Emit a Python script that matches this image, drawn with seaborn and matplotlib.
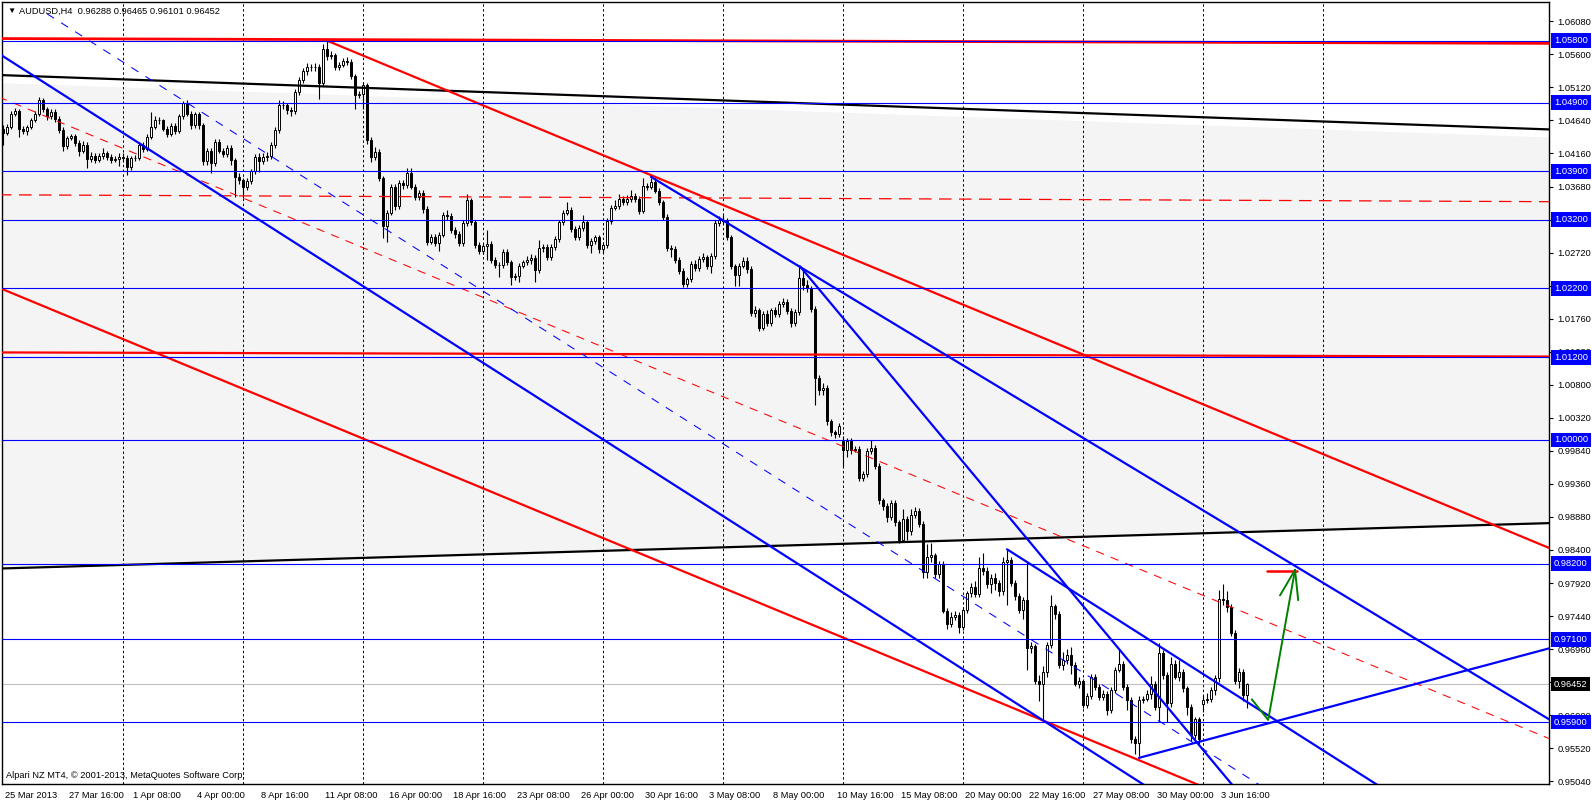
import numpy as np
import pandas as pd
import seaborn as sns
import matplotlib.pyplot as plt
from matplotlib import transforms

# AUDUSD H4, 6 bars a day, 25 Mar 2013 .. 4 Jun 2013 (one row = one day)
opens = [
    1.0452, 1.0446, 1.0455, 1.0474, 1.0478, 1.0451,
    1.0448, 1.0455, 1.0465, 1.0474, 1.0493, 1.0480,
    1.0470, 1.0477, 1.0466, 1.0450, 1.0427, 1.0438,
    1.0441, 1.0431, 1.0419, 1.0429, 1.0408, 1.0413,
    1.0407, 1.0412, 1.0417, 1.0411, 1.0407, 1.0408,
    1.0411, 1.0410, 1.0396, 1.0409, 1.0410, 1.0429,
    1.0423, 1.0440, 1.0455, 1.0465, 1.0464, 1.0452,
    1.0445, 1.0456, 1.0449, 1.0470, 1.0489, 1.0474,
    1.0457, 1.0473, 1.0457, 1.0405, 1.0420, 1.0402,
    1.0433, 1.0420, 1.0415, 1.0424, 1.0406, 1.0382,
    1.0377, 1.0367, 1.0376, 1.0390, 1.0411, 1.0405,
    1.0411, 1.0412, 1.0428, 1.0450, 1.0487, 1.0486,
    1.0479, 1.0478, 1.0506, 1.0523, 1.0536, 1.0542,
    1.0541, 1.0542, 1.0518, 1.0568, 1.0558, 1.0559,
    1.0542, 1.0545, 1.0550, 1.0549, 1.0528, 1.0501,
    1.0503, 1.0515, 1.0436, 1.0411, 1.0418, 1.0380,
    1.0310, 1.0330, 1.0368, 1.0339, 1.0373, 1.0370,
    1.0388, 1.0368, 1.0353, 1.0359, 1.0336, 1.0288,
    1.0295, 1.0286, 1.0298, 1.0327, 1.0325, 1.0305,
    1.0299, 1.0286, 1.0315, 1.0348, 1.0316, 1.0283,
    1.0275, 1.0281, 1.0285, 1.0261, 1.0254, 1.0254,
    1.0273, 1.0258, 1.0236, 1.0238, 1.0253, 1.0258,
    1.0262, 1.0264, 1.0247, 1.0278, 1.0280, 1.0266,
    1.0280, 1.0292, 1.0316, 1.0330, 1.0334, 1.0306,
    1.0294, 1.0308, 1.0316, 1.0283, 1.0289, 1.0294,
    1.0277, 1.0283, 1.0318, 1.0337, 1.0340, 1.0350,
    1.0345, 1.0350, 1.0354, 1.0350, 1.0333, 1.0369,
    1.0368, 1.0375, 1.0362, 1.0345, 1.0324, 1.0278,
    1.0277, 1.0262, 1.0246, 1.0226, 1.0233, 1.0256,
    1.0250, 1.0263, 1.0265, 1.0252, 1.0267, 1.0315,
    1.0320, 1.0318, 1.0294, 1.0252, 1.0239, 1.0253,
    1.0260, 1.0248, 1.0185, 1.0188, 1.0163, 1.0183,
    1.0170, 1.0188, 1.0183, 1.0197, 1.0200, 1.0187,
    1.0170, 1.0186, 1.0235, 1.0225, 1.0220, 1.0190,
    1.0090, 1.0073, 1.0075, 1.0027, 1.0011, 1.0008,
    0.9998, 0.9985, 0.9998, 0.9985, 0.9987, 0.9945,
    0.9950, 0.9984, 0.9988, 0.9962, 0.9912, 0.9904,
    0.9888, 0.9908, 0.9880, 0.9855, 0.9885, 0.9867,
    0.9891, 0.9897, 0.9878, 0.9808, 0.9830, 0.9832,
    0.9805, 0.9820, 0.9752, 0.9733, 0.9742, 0.9746,
    0.9728, 0.9753, 0.9777, 0.9786, 0.9776, 0.9814,
    0.9810, 0.9790, 0.9800, 0.9792, 0.9780, 0.9823,
    0.9825, 0.9792, 0.9773, 0.9753, 0.9768, 0.9697,
    0.9700, 0.9649, 0.9646, 0.9663, 0.9702, 0.9758,
    0.9747, 0.9673, 0.9680, 0.9688, 0.9673, 0.9646,
    0.9649, 0.9615, 0.9628, 0.9656, 0.9641, 0.9627,
    0.9631, 0.9607, 0.9637, 0.9666, 0.9675, 0.9641,
    0.9622, 0.9566, 0.9560, 0.9622, 0.9624, 0.9631,
    0.9645, 0.9612, 0.9690, 0.9658, 0.9617, 0.9674,
    0.9656, 0.9663, 0.9639, 0.9612, 0.9571, 0.9594,
    0.9616, 0.9622, 0.9624, 0.9636, 0.9654, 0.9769,
    0.9768, 0.9757, 0.9720, 0.9650, 0.9663, 0.96288,
]
highs = [
    1.0458, 1.0459, 1.0478, 1.0482, 1.0481, 1.0456,
    1.0458, 1.0468, 1.0478, 1.0498, 1.0496, 1.0484,
    1.0481, 1.0480, 1.0470, 1.0454, 1.0442, 1.0445,
    1.0445, 1.0436, 1.0434, 1.0432, 1.0418, 1.0416,
    1.0416, 1.0424, 1.0420, 1.0415, 1.0413, 1.0416,
    1.0417, 1.0414, 1.0412, 1.0414, 1.0433, 1.0433,
    1.0444, 1.0477, 1.0470, 1.0469, 1.0466, 1.0456,
    1.0460, 1.0461, 1.0474, 1.0492, 1.0494, 1.0478,
    1.0477, 1.0477, 1.0460, 1.0424, 1.0424, 1.0437,
    1.0437, 1.0424, 1.0429, 1.0428, 1.0410, 1.0387,
    1.0381, 1.0380, 1.0394, 1.0415, 1.0416, 1.0416,
    1.0418, 1.0432, 1.0454, 1.0494, 1.0492, 1.0490,
    1.0484, 1.0510, 1.0527, 1.0540, 1.0547, 1.0546,
    1.0547, 1.0546, 1.0575, 1.0580, 1.0565, 1.0562,
    1.0549, 1.0555, 1.0556, 1.0553, 1.0531, 1.0507,
    1.0520, 1.0519, 1.0440, 1.0425, 1.0422, 1.0384,
    1.0334, 1.0372, 1.0372, 1.0377, 1.0377, 1.0395,
    1.0395, 1.0372, 1.0363, 1.0363, 1.0340, 1.0299,
    1.0299, 1.0302, 1.0331, 1.0334, 1.0329, 1.0309,
    1.0303, 1.0319, 1.0357, 1.0352, 1.0320, 1.0287,
    1.0285, 1.0305, 1.0289, 1.0265, 1.0258, 1.0277,
    1.0277, 1.0262, 1.0242, 1.0257, 1.0262, 1.0267,
    1.0270, 1.0268, 1.0290, 1.0285, 1.0284, 1.0284,
    1.0296, 1.0320, 1.0334, 1.0346, 1.0338, 1.0310,
    1.0312, 1.0326, 1.0320, 1.0293, 1.0298, 1.0298,
    1.0287, 1.0322, 1.0341, 1.0349, 1.0357, 1.0354,
    1.0355, 1.0363, 1.0358, 1.0354, 1.0380, 1.0373,
    1.0380, 1.0383, 1.0366, 1.0349, 1.0328, 1.0283,
    1.0281, 1.0266, 1.0250, 1.0237, 1.0260, 1.0262,
    1.0267, 1.0272, 1.0269, 1.0271, 1.0320, 1.0325,
    1.0326, 1.0322, 1.0298, 1.0256, 1.0257, 1.0266,
    1.0265, 1.0252, 1.0195, 1.0192, 1.0187, 1.0188,
    1.0192, 1.0193, 1.0201, 1.0206, 1.0204, 1.0191,
    1.0190, 1.0251, 1.0245, 1.0232, 1.0224, 1.0194,
    1.0094, 1.0082, 1.0079, 1.0031, 1.0015, 1.0025,
    1.0005, 1.0002, 1.0002, 0.9991, 0.9991, 0.9955,
    0.9988, 1.0000, 0.9992, 0.9966, 0.9916, 0.9908,
    0.9912, 0.9913, 0.9884, 0.9900, 0.9890, 0.9900,
    0.9902, 0.9901, 0.9882, 0.9848, 0.9850, 0.9836,
    0.9824, 0.9824, 0.9756, 0.9750, 0.9752, 0.9750,
    0.9757, 0.9781, 0.9792, 0.9795, 0.9830, 0.9836,
    0.9815, 0.9805, 0.9806, 0.9797, 0.9830, 0.9840,
    0.9830, 0.9796, 0.9777, 0.9772, 0.9823, 0.9706,
    0.9704, 0.9659, 0.9671, 0.9707, 0.9775, 0.9762,
    0.9751, 0.9692, 0.9696, 0.9699, 0.9677, 0.9656,
    0.9653, 0.9632, 0.9660, 0.9660, 0.9645, 0.9636,
    0.9635, 0.9641, 0.9670, 0.9695, 0.9679, 0.9645,
    0.9626, 0.9570, 0.9628, 0.9628, 0.9636, 0.9657,
    0.9650, 0.9705, 0.9694, 0.9662, 0.9685, 0.9680,
    0.9680, 0.9667, 0.9643, 0.9616, 0.9598, 0.9598,
    0.9630, 0.9632, 0.9641, 0.9658, 0.9782, 0.9791,
    0.9781, 0.9761, 0.9724, 0.9668, 0.9667, 0.96465,
]
lows = [
    1.0429, 1.0443, 1.0452, 1.0470, 1.0440, 1.0444,
    1.0443, 1.0451, 1.0462, 1.0471, 1.0476, 1.0465,
    1.0466, 1.0462, 1.0446, 1.0420, 1.0423, 1.0435,
    1.0427, 1.0412, 1.0416, 1.0395, 1.0404, 1.0402,
    1.0403, 1.0408, 1.0406, 1.0402, 1.0403, 1.0398,
    1.0404, 1.0385, 1.0392, 1.0405, 1.0407, 1.0418,
    1.0419, 1.0437, 1.0452, 1.0459, 1.0448, 1.0440,
    1.0441, 1.0444, 1.0446, 1.0466, 1.0470, 1.0452,
    1.0453, 1.0452, 1.0400, 1.0400, 1.0387, 1.0398,
    1.0416, 1.0411, 1.0411, 1.0400, 1.0353, 1.0371,
    1.0351, 1.0363, 1.0372, 1.0386, 1.0389, 1.0401,
    1.0405, 1.0408, 1.0424, 1.0446, 1.0480, 1.0474,
    1.0471, 1.0474, 1.0501, 1.0519, 1.0530, 1.0536,
    1.0536, 1.0495, 1.0514, 1.0552, 1.0553, 1.0537,
    1.0537, 1.0541, 1.0544, 1.0524, 1.0480, 1.0496,
    1.0480, 1.0430, 1.0403, 1.0407, 1.0376, 1.0293,
    1.0288, 1.0326, 1.0334, 1.0335, 1.0365, 1.0366,
    1.0364, 1.0349, 1.0349, 1.0330, 1.0283, 1.0284,
    1.0281, 1.0275, 1.0294, 1.0320, 1.0300, 1.0293,
    1.0281, 1.0281, 1.0311, 1.0312, 1.0279, 1.0270,
    1.0270, 1.0262, 1.0257, 1.0249, 1.0236, 1.0250,
    1.0254, 1.0225, 1.0232, 1.0230, 1.0250, 1.0254,
    1.0256, 1.0230, 1.0243, 1.0273, 1.0262, 1.0262,
    1.0276, 1.0288, 1.0312, 1.0326, 1.0302, 1.0290,
    1.0290, 1.0304, 1.0278, 1.0272, 1.0284, 1.0271,
    1.0271, 1.0279, 1.0314, 1.0334, 1.0336, 1.0341,
    1.0341, 1.0346, 1.0345, 1.0328, 1.0329, 1.0363,
    1.0364, 1.0358, 1.0341, 1.0320, 1.0274, 1.0265,
    1.0257, 1.0241, 1.0222, 1.0222, 1.0229, 1.0246,
    1.0245, 1.0259, 1.0248, 1.0242, 1.0263, 1.0311,
    1.0313, 1.0290, 1.0248, 1.0224, 1.0224, 1.0249,
    1.0243, 1.0180, 1.0178, 1.0158, 1.0159, 1.0165,
    1.0165, 1.0178, 1.0179, 1.0193, 1.0183, 1.0164,
    1.0165, 1.0182, 1.0218, 1.0215, 1.0186, 1.0050,
    1.0065, 1.0065, 1.0022, 1.0005, 1.0002, 1.0004,
    0.9960, 0.9975, 0.9980, 0.9982, 0.9940, 0.9940,
    0.9946, 0.9979, 0.9958, 0.9907, 0.9898, 0.9880,
    0.9883, 0.9875, 0.9850, 0.9851, 0.9855, 0.9862,
    0.9886, 0.9873, 0.9800, 0.9800, 0.9822, 0.9800,
    0.9800, 0.9748, 0.9725, 0.9728, 0.9738, 0.9720,
    0.9724, 0.9748, 0.9772, 0.9771, 0.9772, 0.9804,
    0.9785, 0.9778, 0.9782, 0.9773, 0.9775, 0.9760,
    0.9788, 0.9768, 0.9748, 0.9740, 0.9665, 0.9690,
    0.9645, 0.9620, 0.9592, 0.9655, 0.9698, 0.9740,
    0.9668, 0.9665, 0.9675, 0.9660, 0.9642, 0.9640,
    0.9610, 0.9610, 0.9624, 0.9637, 0.9622, 0.9622,
    0.9600, 0.9603, 0.9632, 0.9662, 0.9636, 0.9608,
    0.9560, 0.9544, 0.9540, 0.9618, 0.9620, 0.9624,
    0.9607, 0.9590, 0.9652, 0.9590, 0.9612, 0.9652,
    0.9650, 0.9634, 0.9600, 0.9562, 0.9566, 0.9555,
    0.9605, 0.9617, 0.9619, 0.9630, 0.9648, 0.9760,
    0.9750, 0.9715, 0.9645, 0.9640, 0.9620, 0.96101,
]
closes = [
    1.0446, 1.0455, 1.0474, 1.0478, 1.0451, 1.0448,
    1.0455, 1.0465, 1.0474, 1.0493, 1.0480, 1.0470,
    1.0477, 1.0466, 1.0450, 1.0427, 1.0438, 1.0441,
    1.0431, 1.0419, 1.0429, 1.0408, 1.0413, 1.0407,
    1.0412, 1.0417, 1.0411, 1.0407, 1.0408, 1.0411,
    1.0410, 1.0396, 1.0409, 1.0410, 1.0429, 1.0423,
    1.0440, 1.0455, 1.0465, 1.0464, 1.0452, 1.0445,
    1.0456, 1.0449, 1.0470, 1.0489, 1.0474, 1.0457,
    1.0473, 1.0457, 1.0405, 1.0420, 1.0402, 1.0433,
    1.0420, 1.0415, 1.0424, 1.0406, 1.0382, 1.0377,
    1.0367, 1.0376, 1.0390, 1.0411, 1.0405, 1.0411,
    1.0412, 1.0428, 1.0450, 1.0487, 1.0486, 1.0479,
    1.0478, 1.0506, 1.0523, 1.0536, 1.0542, 1.0541,
    1.0542, 1.0518, 1.0568, 1.0558, 1.0559, 1.0542,
    1.0545, 1.0550, 1.0549, 1.0528, 1.0501, 1.0503,
    1.0515, 1.0436, 1.0411, 1.0418, 1.0380, 1.0310,
    1.0330, 1.0368, 1.0339, 1.0373, 1.0370, 1.0388,
    1.0368, 1.0353, 1.0359, 1.0336, 1.0288, 1.0295,
    1.0286, 1.0298, 1.0327, 1.0325, 1.0305, 1.0299,
    1.0286, 1.0315, 1.0348, 1.0316, 1.0283, 1.0275,
    1.0281, 1.0285, 1.0261, 1.0254, 1.0254, 1.0273,
    1.0258, 1.0236, 1.0238, 1.0253, 1.0258, 1.0262,
    1.0264, 1.0247, 1.0278, 1.0280, 1.0266, 1.0280,
    1.0292, 1.0316, 1.0330, 1.0334, 1.0306, 1.0294,
    1.0308, 1.0316, 1.0283, 1.0289, 1.0294, 1.0277,
    1.0283, 1.0318, 1.0337, 1.0340, 1.0350, 1.0345,
    1.0350, 1.0354, 1.0350, 1.0333, 1.0369, 1.0368,
    1.0375, 1.0362, 1.0345, 1.0324, 1.0278, 1.0277,
    1.0262, 1.0246, 1.0226, 1.0233, 1.0256, 1.0250,
    1.0263, 1.0265, 1.0252, 1.0267, 1.0315, 1.0320,
    1.0318, 1.0294, 1.0252, 1.0239, 1.0253, 1.0260,
    1.0248, 1.0185, 1.0188, 1.0163, 1.0183, 1.0170,
    1.0188, 1.0183, 1.0197, 1.0200, 1.0187, 1.0170,
    1.0186, 1.0235, 1.0225, 1.0220, 1.0190, 1.0090,
    1.0073, 1.0075, 1.0027, 1.0011, 1.0008, 1.0020,
    0.9985, 0.9998, 0.9985, 0.9987, 0.9945, 0.9950,
    0.9984, 0.9988, 0.9962, 0.9912, 0.9904, 0.9888,
    0.9908, 0.9880, 0.9855, 0.9885, 0.9867, 0.9891,
    0.9897, 0.9878, 0.9808, 0.9830, 0.9832, 0.9805,
    0.9820, 0.9752, 0.9733, 0.9742, 0.9746, 0.9728,
    0.9753, 0.9777, 0.9786, 0.9776, 0.9814, 0.9810,
    0.9790, 0.9800, 0.9792, 0.9780, 0.9823, 0.9825,
    0.9792, 0.9773, 0.9753, 0.9768, 0.9697, 0.9700,
    0.9649, 0.9646, 0.9663, 0.9702, 0.9758, 0.9747,
    0.9673, 0.9680, 0.9688, 0.9673, 0.9646, 0.9649,
    0.9615, 0.9628, 0.9656, 0.9641, 0.9627, 0.9631,
    0.9607, 0.9637, 0.9666, 0.9675, 0.9641, 0.9622,
    0.9566, 0.9560, 0.9622, 0.9624, 0.9631, 0.9645,
    0.9612, 0.9690, 0.9658, 0.9617, 0.9674, 0.9656,
    0.9663, 0.9639, 0.9612, 0.9571, 0.9594, 0.9566,
    0.9622, 0.9624, 0.9636, 0.9654, 0.9769, 0.9768,
    0.9757, 0.9720, 0.9650, 0.9663, 0.9630, 0.96452,
]

# time scale labels (every 16 bars) and weekly grid (every 30 bars)
date_labels = ["25 Mar 2013", "27 Mar 16:00", "1 Apr 08:00", "4 Apr 00:00", "8 Apr 16:00",
               "11 Apr 08:00", "16 Apr 00:00", "18 Apr 16:00", "23 Apr 08:00", "26 Apr 00:00",
               "30 Apr 16:00", "3 May 08:00", "8 May 00:00", "10 May 16:00", "15 May 08:00",
               "20 May 00:00", "22 May 16:00", "27 May 08:00", "30 May 00:00", "3 Jun 16:00"]
grid_bars = [30, 60, 90, 120, 150, 180, 210, 240, 270, 300, 330]

# price scale (labels hidden by the level boxes are left blank)
price_ticks = [1.0608, 1.0560, 1.0512, 1.0464, 1.0416, 1.0368, 1.0320, 1.0272, 1.0224,
               1.0176, 1.0128, 1.0080, 1.0032, 0.9984, 0.9936, 0.9888, 0.9840, 0.9792,
               0.9744, 0.9696, 0.9648, 0.9600, 0.9552, 0.9504]
hidden_ticks = [1.0320, 1.0224, 0.9648]
level_prices = [1.058, 1.049, 1.039, 1.032, 1.022, 1.012, 1.000, 0.982, 0.971, 0.959]
last_price = 0.96452

# drawn objects: end points as (bar index, price)
band_bars = [-1, 386.5]
band_top = [1.0519, 1.0440]
band_bottom = [0.9813, 0.9879]
black_up_bars, black_up_prices = [-1, 386.5], [1.0530, 1.0451]
black_lo_bars, black_lo_prices = [-1, 386.5], [0.9813, 0.9879]
red_hi_bars, red_hi_prices = [-1, 386.5], [1.0583, 1.0576]
red_lo_bars, red_lo_prices = [-1, 386.5], [1.0127, 1.0121]
red_hmid_bars, red_hmid_prices = [-1, 386.5], [1.0356, 1.0346]
red_ch_top_bars, red_ch_top_prices = [81, 386.5], [1.0580, 0.9843]
red_ch_mid_bars, red_ch_mid_prices = [-1, 386.5], [1.0498, 0.9566]
red_ch_low_bars, red_ch_low_prices = [-1, 300], [1.0221, 0.9496]
blue_a_bars, blue_a_prices = [-1, 300], [1.0561, 0.9444]
blue_mid_bars, blue_mid_prices = [11, 320], [1.0619, 0.9477]
blue_c_bars, blue_c_prices = [162, 386.5], [1.0382, 0.9594]
blue_d_bars, blue_d_prices = [199.25, 310], [1.0252, 0.9480]
blue_e_bars, blue_e_prices = [251, 350], [0.9841, 0.9475]
blue_f_bars, blue_f_prices = [284, 386.5], [0.9538, 0.9697]
green_bars, green_prices = [312.2, 316.3, 323], [0.9623, 0.9593, 0.9811]
green_left_bars, green_left_prices = [319.25, 323], [0.9774, 0.9811]
green_right_bars, green_right_prices = [323, 323.8], [0.9811, 0.9767]
target_bars, target_prices = [316, 323.5], [0.9809, 0.9809]

sns.set_style("white")
plt.rcParams['font.family'] = ['Liberation Sans', 'DejaVu Sans']

W, H = 1592, 802
fig = plt.figure(figsize=(W / 100, H / 100), dpi=100)
ax = fig.add_axes([2 / W, (H - 784) / H, 1547 / W, 782 / H])
fs = 6.7

BLUE, RED, GREEN = "#0000FF", "#FF0000", "#008000"


def trend(bars, prices, color, lw, ls="-", z=5):
    df = pd.DataFrame({"bar": bars, "price": prices})
    sns.lineplot(data=df, x="bar", y="price", color=color, linewidth=lw, linestyle=ls,
                 sort=False, estimator=None, ax=ax, zorder=z)


# shaded channel
ax.fill_between(band_bars, band_top, band_bottom, color="#F4F4F4", lw=0, zorder=0)

# weekly grid
for g in grid_bars:
    ax.axvline(g, color="black", lw=0.7, ls=(0, (2.5, 2.5)), zorder=1)

# candles
o = np.array(opens); h = np.array(highs); l = np.array(lows); c = np.array(closes)
x = np.arange(len(c))
ax.vlines(x, l, h, color="black", lw=0.8, zorder=2.8)
body_lo = np.minimum(o, c)
body_h = np.maximum(np.abs(c - o), 0.00004)
face = np.where(c >= o, "white", "black")
ax.bar(x, body_h, bottom=body_lo, width=0.6, color=face, edgecolor="black", linewidth=0.7, zorder=3)

# current price line
ax.axhline(last_price, color="#C0C0C0", lw=0.8, zorder=2)

# thick red/black objects
trend(red_hi_bars, red_hi_prices, RED, 2.0)
trend(red_lo_bars, red_lo_prices, RED, 1.6)
trend(red_hmid_bars, red_hmid_prices, RED, 0.9, (0, (10, 6)))
trend(black_up_bars, black_up_prices, "black", 1.6)
trend(black_lo_bars, black_lo_prices, "black", 1.6)
trend(red_ch_top_bars, red_ch_top_prices, RED, 1.6)
trend(red_ch_low_bars, red_ch_low_prices, RED, 1.6)
trend(red_ch_mid_bars, red_ch_mid_prices, RED, 0.75, (0, (8, 7)))

# horizontal levels
for p in level_prices:
    ax.axhline(p, color=BLUE, lw=0.8, zorder=5)

# blue trend lines
trend(blue_a_bars, blue_a_prices, BLUE, 1.6)
trend(blue_mid_bars, blue_mid_prices, BLUE, 0.75, (0, (8, 8)))
trend(blue_c_bars, blue_c_prices, BLUE, 1.6)
trend(blue_d_bars, blue_d_prices, BLUE, 1.6)
trend(blue_e_bars, blue_e_prices, BLUE, 1.6)
trend(blue_f_bars, blue_f_prices, BLUE, 1.6)

# projection arrow and target
trend(target_bars, target_prices, RED, 1.8)
trend(green_bars, green_prices, GREEN, 1.4)
trend(green_left_bars, green_left_prices, GREEN, 1.4)
trend(green_right_bars, green_right_prices, GREEN, 1.4)

ax.set_xlim(-0.25, 386.5)
ax.set_ylim(0.95000, 1.06361)
ax.set_xlabel("")
ax.set_ylabel("")

# price scale on the right
ax.yaxis.tick_right()
ax.set_yticks(price_ticks)
ax.set_yticklabels(["" if v in hidden_ticks else f"{v:.5f}" for v in price_ticks])
ax.tick_params(axis="y", direction="out", length=3, width=0.8, pad=3, labelsize=fs, colors="black")

# time scale
ax.set_xticks(np.arange(len(date_labels)) * 16)
ax.set_xticklabels(date_labels, ha="left")
ax.tick_params(axis="x", direction="out", length=4, width=0.8, pad=1, labelsize=fs, colors="black")
shift = transforms.ScaledTranslation(2 / 100, 0, fig.dpi_scale_trans)
for lbl in ax.get_xticklabels():
    lbl.set_transform(lbl.get_transform() + shift)

for s in ax.spines.values():
    s.set_color("black")
    s.set_linewidth(1.0)
    s.set_visible(True)

# coloured price labels
lab_tr = transforms.blended_transform_factory(ax.transAxes, ax.transData)
for p in level_prices:
    ax.text(1.0 + 5 / 1547, p, f"{p:.5f}", transform=lab_tr, ha="left", va="center",
            fontsize=fs, color="white", clip_on=False, zorder=10,
            bbox=dict(boxstyle="square,pad=0.3", fc=BLUE, ec="none"))
ax.text(1.0 + 5 / 1547, last_price, f"{last_price:.5f}", transform=lab_tr, ha="left",
        va="center", fontsize=fs, color="white", clip_on=False, zorder=10,
        bbox=dict(boxstyle="square,pad=0.3", fc="black", ec="none"))

# header and footer texts
fig.text(7 / W, 1 - 11 / H, "▼", fontsize=6, va="center", ha="left", color="black")
fig.text(19 / W, 1 - 11 / H, "AUDUSD,H4  0.96288 0.96465 0.96101 0.96452",
         fontsize=fs, va="center", ha="left", color="black")
fig.text(6 / W, 1 - 775 / H, "Alpari NZ MT4, © 2001-2013, MetaQuotes Software Corp.",
         fontsize=fs, va="center", ha="left", color="black")

fig.savefig("out.png", dpi=100, facecolor="white")
